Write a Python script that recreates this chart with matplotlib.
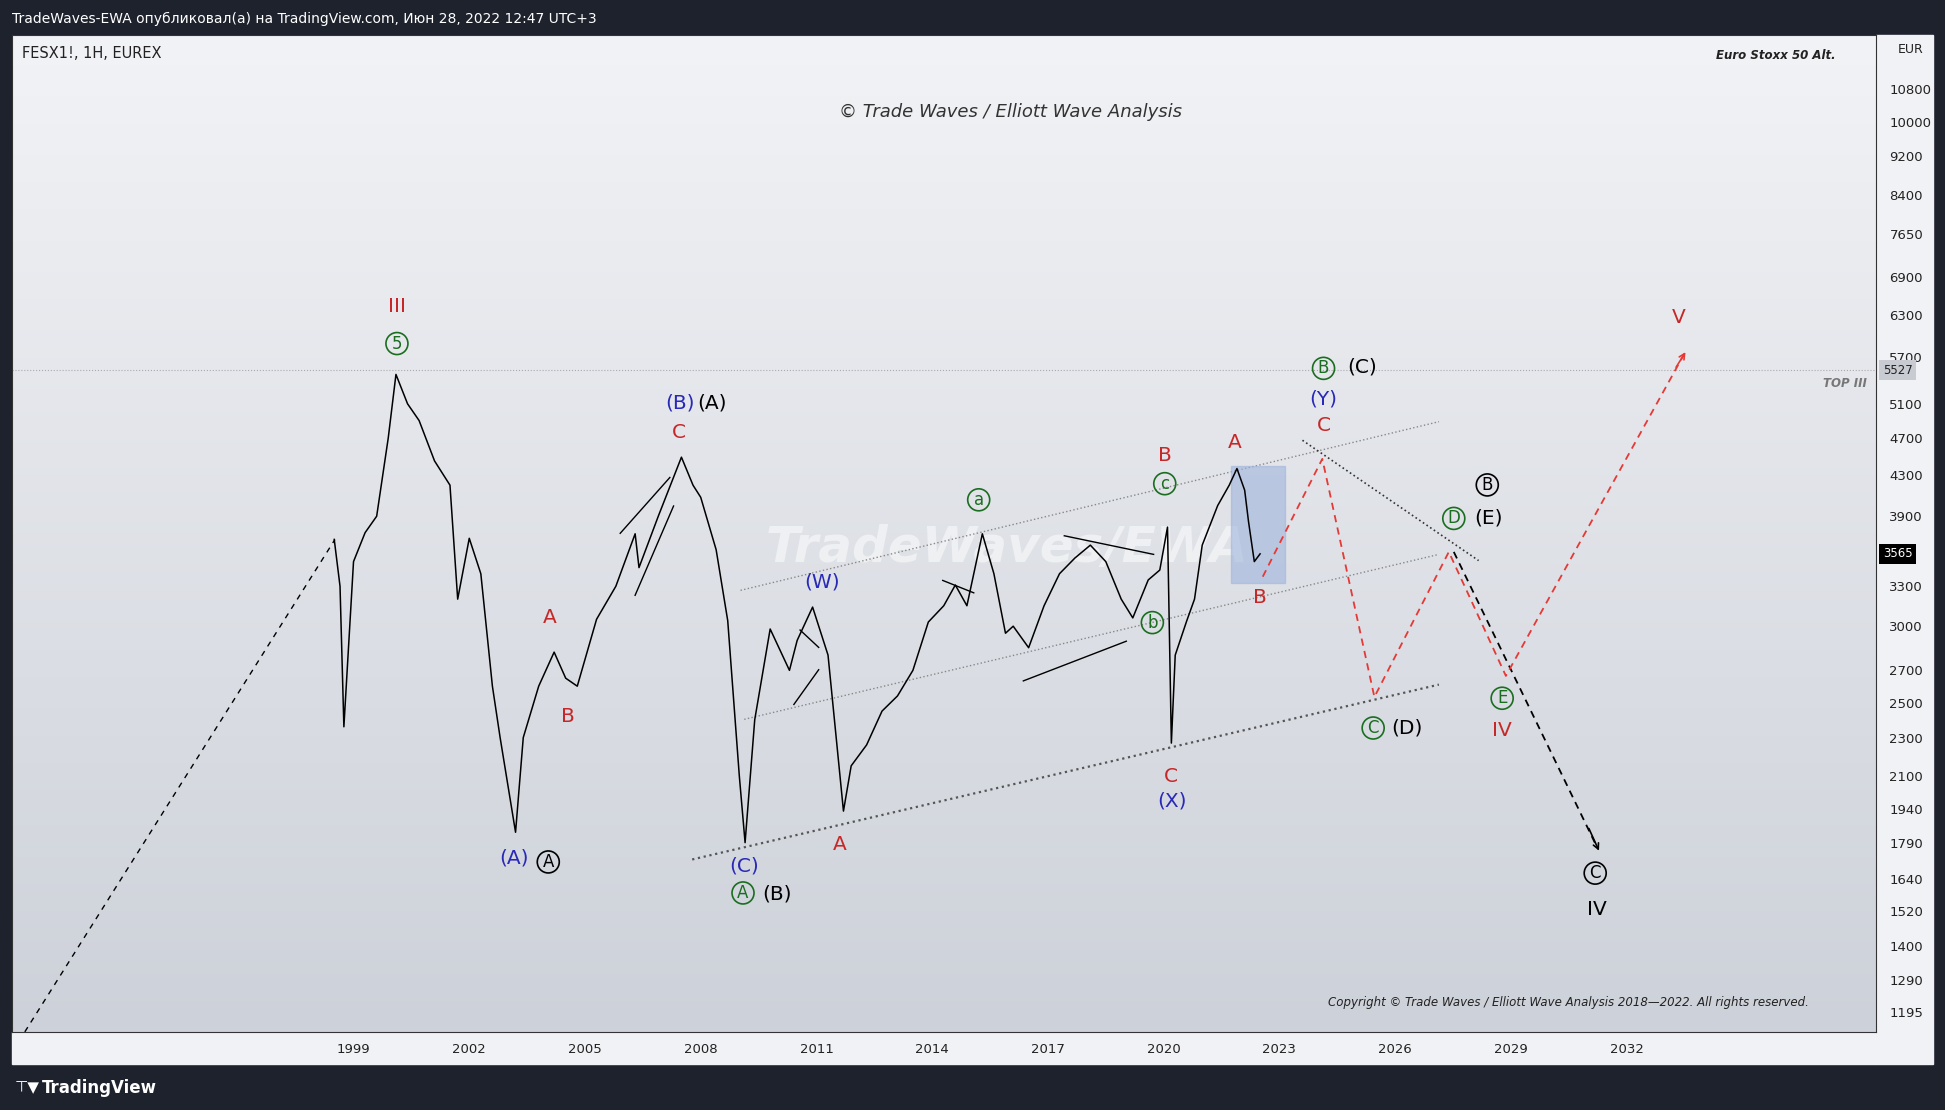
import numpy as np
import matplotlib
matplotlib.use("Agg")
import matplotlib.pyplot as plt
from matplotlib.patches import Rectangle

# price path (year, price)
years = [1998.5, 1998.65, 1998.75, 1999.0, 1999.3, 1999.6, 1999.9, 2000.1, 2000.4, 2000.7, 2001.1, 2001.5,
         2001.7, 2002.0, 2002.3, 2002.6, 2002.8, 2003.2, 2003.4, 2003.8, 2004.2, 2004.5, 2004.8, 2005.3,
         2005.8, 2006.3, 2006.4, 2006.9, 2007.5, 2007.8, 2008.0, 2008.4, 2008.7, 2009.0, 2009.15, 2009.4,
         2009.8, 2010.3, 2010.5, 2010.9, 2011.3, 2011.7, 2011.9, 2012.3, 2012.7, 2013.1, 2013.5, 2013.9,
         2014.3, 2014.6, 2014.9, 2015.3, 2015.6, 2015.9, 2016.1, 2016.5, 2016.9, 2017.3, 2017.7, 2018.1,
         2018.5, 2018.9, 2019.2, 2019.6, 2019.9, 2020.1, 2020.2, 2020.3, 2020.6, 2020.8, 2021.0, 2021.4,
         2021.7, 2021.9, 2022.1, 2022.2, 2022.35, 2022.5]
prices = [3690, 3300, 2360, 3500, 3750, 3900, 4700, 5470, 5100, 4900, 4450, 4200,
          3200, 3700, 3400, 2600, 2300, 1835, 2300, 2600, 2820, 2650, 2600, 3050,
          3300, 3740, 3450, 3900, 4490, 4200, 4080, 3600, 3040, 2100, 1790, 2400,
          2980, 2700, 2900, 3140, 2800, 1930, 2150, 2260, 2450, 2540, 2700, 3030,
          3150, 3310, 3150, 3740, 3400, 2950, 3000, 2850, 3150, 3400, 3530, 3640,
          3500, 3200, 3060, 3350, 3430, 3800, 2270, 2800, 3040, 3200, 3640, 4000,
          4200, 4370, 4150, 3850, 3500, 3565]

y_ticks = [1195, 1290, 1400, 1520, 1640, 1790, 1940, 2100, 2300, 2500, 2700, 3000, 3300,
           3900, 4300, 4700, 5100, 5700, 6300, 6900, 7650, 8400, 9200, 10000, 10800]
x_ticks = [1999, 2002, 2005, 2008, 2011, 2014, 2017, 2020, 2023, 2026, 2029, 2032]

# screen (reference display px, 1568x895) -> data helpers for annotation placement
W, H = 1568, 895
def X(px):
    return 1999 + (px - 285) / 31.1
def P(py):
    return 10 ** (np.log10(1195) + (816 - py) * 0.001285)

fig = plt.figure(figsize=(19.45, 11.10), dpi=100)
fig.patch.set_facecolor("#1e222d")
ax = fig.add_axes([10 / W, 1 - 832 / H, 1502 / W, 804 / H])
ax.set_yscale("log")
ax.set_xlim(X(10), X(1512))
ax.set_ylim(P(832), P(28))

# background gradient
grad = np.linspace(0, 1, 256).reshape(-1, 1)
ax.imshow(grad, extent=[0, 1, 0, 1], transform=ax.transAxes, aspect="auto",
          cmap=matplotlib.colors.LinearSegmentedColormap.from_list("g", ["#cdd1d9", "#f2f3f6"]),
          origin="lower", zorder=0)

ax.plot(years, prices, color="black", lw=1.1, zorder=3)

def seg(pts, **kw):
    ax.plot([X(p[0]) for p in pts], [P(p[1]) for p in pts], **kw)

seg([(20, 832), (270, 435)], color="black", ls=(0, (4, 4)), lw=1)
seg([(558, 693), (1160, 552)], color="#555", ls=":", lw=1.6)
seg([(597, 476), (1160, 340)], color="#888", ls=":", lw=1)
seg([(600, 580), (1160, 447)], color="#888", ls=":", lw=1)
seg([(1050, 355), (1192, 452)], color="#333", ls=":", lw=1.2)
seg([(1018, 465), (1066, 370), (1108, 562), (1168, 445), (1214, 545), (1358, 285)],
    color="#e53935", ls=(0, (4, 3)), lw=1.3, zorder=4)
seg([(1172, 445), (1286, 680)], color="black", ls=(0, (4, 3)), lw=1.3)
ax.annotate("", xy=(X(1290), P(688)), xytext=(X(1280), P(666)),
            arrowprops=dict(arrowstyle="->", color="black", lw=1.2))
ax.annotate("", xy=(X(1360), P(282)), xytext=(X(1350), P(298)),
            arrowprops=dict(arrowstyle="->", color="#e53935", lw=1.2))
for a, b in [((500, 430), (540, 385)), ((512, 480), (543, 408)), ((858, 432), (930, 447)),
             ((825, 549), (908, 517)), ((760, 468), (785, 478)), ((645, 508), (660, 522)),
             ((640, 568), (660, 540))]:
    seg([a, b], color="black", lw=1)
ax.axhline(5527, color="#aaaaaa", ls=":", lw=0.8)
ax.add_patch(Rectangle((X(992), P(470)), X(1036) - X(992), P(376) - P(470),
                       color="#9fb4dc", alpha=0.6, zorder=2))

RED, BLUE, GREEN = "#c62828", "#2929b8", "#1b6e20"
labels = [
    (320, 247, "III", RED, False), (320, 277, "5", GREEN, True),
    (548, 325, "(B)", BLUE, False), (574, 325, "(A)", "black", False), (547, 349, "C", RED, False),
    (443, 498, "A", RED, False), (458, 578, "B", RED, False),
    (414, 692, "(A)", BLUE, False), (442, 695, "A", "black", True),
    (600, 698, "(C)", BLUE, False), (599, 720, "A", GREEN, True), (626, 721, "(B)", "black", False),
    (677, 681, "A", RED, False), (663, 469, "(W)", BLUE, False), (789, 403, "a", GREEN, True),
    (939, 367, "B", RED, False), (939, 390, "c", GREEN, True), (929, 502, "b", GREEN, True),
    (944, 626, "C", RED, False), (945, 646, "(X)", BLUE, False),
    (995, 357, "A", RED, False), (1016, 482, "B", RED, False),
    (1067, 297, "B", GREEN, True), (1098, 296, "(C)", "black", False),
    (1067, 322, "(Y)", BLUE, False), (1067, 343, "C", RED, False),
    (1199, 391, "B", "black", True), (1172, 418, "D", GREEN, True), (1200, 418, "(E)", "black", False),
    (1107, 587, "C", GREEN, True), (1134, 587, "(D)", "black", False),
    (1211, 563, "E", GREEN, True), (1211, 589, "IV", RED, False),
    (1286, 704, "C", "black", True), (1287, 733, "IV", "black", False), (1353, 256, "V", RED, False),
]
for px, py, t, c, circ in labels:
    kw = dict(ha="center", va="center", color=c, fontsize=14.5, zorder=6)
    if circ:
        kw["bbox"] = dict(boxstyle="circle,pad=0.12", fc="none", ec=c, lw=1.2)
        kw["fontsize"] = 12
    ax.text(X(px), P(py), t, **kw)

ax.text(X(812), P(442), "TradeWaves/EWA", fontsize=36, fontweight="bold", style="italic",
        color="white", alpha=0.5, ha="center", va="center", zorder=1.5)
ax.text(X(815), P(90), "© Trade Waves / Elliott Wave Analysis", fontsize=13, style="italic",
        color="#333", ha="center", va="center")
ax.text(X(18), P(43), "FESX1!, 1H, EUREX", fontsize=10.5, color="#222", va="center")
ax.text(X(1480), P(45), "Euro Stoxx 50 Alt.", fontsize=8.5, style="italic", fontweight="bold",
        color="#222", ha="right", va="center")
ax.text(X(1505), P(309), "TOP III", fontsize=8.5, style="italic", fontweight="bold",
        color="#777", ha="right", va="center")
ax.text(X(1458), P(808), "Copyright © Trade Waves / Elliott Wave Analysis 2018—2022. All rights reserved.",
        fontsize=8.5, style="italic", color="#222", ha="right", va="center")

# axes styling
ax.yaxis.tick_right()
ax.set_yticks(y_ticks)
ax.set_yticklabels([str(v) for v in y_ticks])
ax.yaxis.set_minor_locator(matplotlib.ticker.NullLocator())
ax.set_xticks(x_ticks)
ax.set_xticklabels([str(v) for v in x_ticks])
ax.tick_params(length=0, labelsize=9.5, colors="#222", pad=8)
ax.tick_params(axis="y", pad=10)
for s in ax.spines.values():
    s.set_color("#333")
ax.grid(False)

# right price-axis and time-axis backgrounds
fig.patches.append(Rectangle((1512 / W, 1 - 858 / H), 46 / W, 830 / H, transform=fig.transFigure,
                             color="#f1f2f5", zorder=-1))
fig.patches.append(Rectangle((10 / W, 1 - 858 / H), 1502 / W, 26 / H, transform=fig.transFigure,
                             color="#f1f2f5", zorder=-1))
ax.text(1.012, P(40), "EUR", transform=ax.get_yaxis_transform(), fontsize=9, color="#222", va="center")
ax.text(1.004, 5527, "5527", transform=ax.get_yaxis_transform(), fontsize=8.5, color="#222", va="center",
        bbox=dict(boxstyle="square,pad=0.3", fc="#c8cbd2", ec="none"), clip_on=False)
ax.text(1.004, 3565, "3565", transform=ax.get_yaxis_transform(), fontsize=8.5, color="white", va="center",
        bbox=dict(boxstyle="square,pad=0.3", fc="black", ec="none"), clip_on=False)

fig.text(10 / W, 1 - 15 / H, "TradeWaves-EWA опубликовал(а) на TradingView.com, Июн 28, 2022 12:47 UTC+3",
         color="white", fontsize=10, va="center")
fig.text(34 / W, 1 - 877 / H, "TradingView", color="white", fontsize=12, va="center", fontweight="bold")
fig.text(12 / W, 1 - 877 / H, "⊤▼", color="white", fontsize=11, va="center")

fig.savefig("out.png", dpi=100, facecolor=fig.get_facecolor())
